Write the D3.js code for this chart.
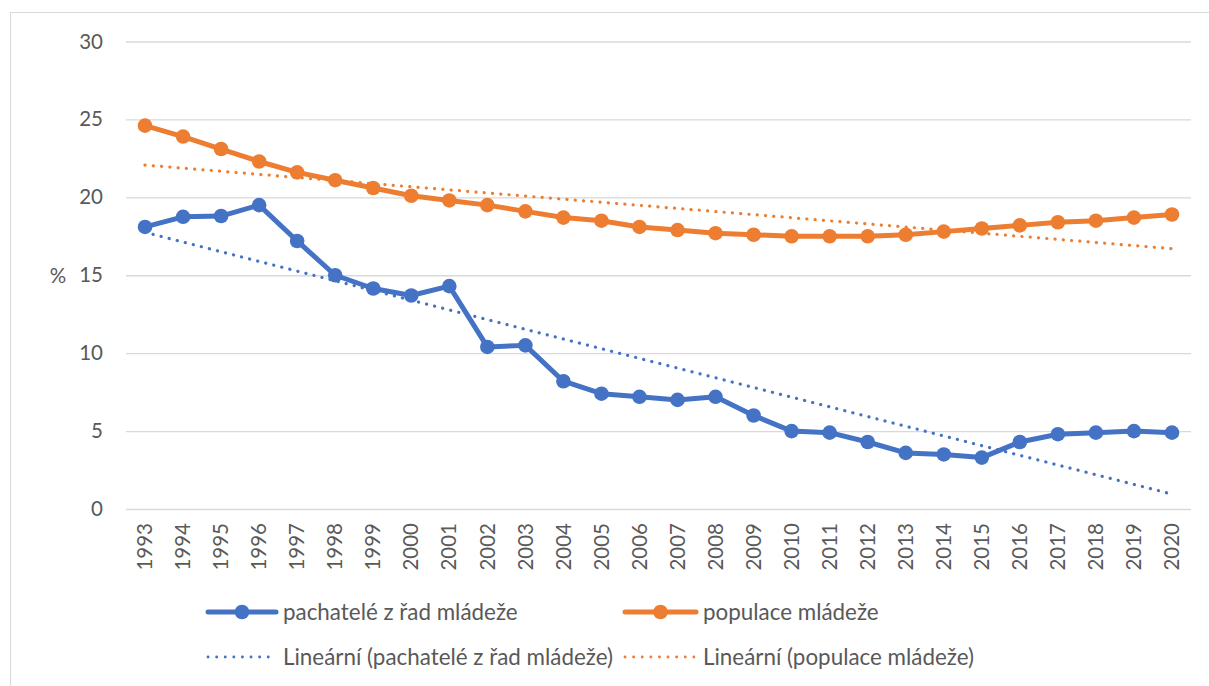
<!DOCTYPE html>
<html><head><meta charset="utf-8">
<script src="https://cdn.jsdelivr.net/npm/d3@7"></script>
<style>
html,body{margin:0;padding:0;background:#fff;}
svg{display:block;}
text{font-family:Lato,"Open Sans",sans-serif;fill:#595959;}
</style></head>
<body><svg id="c" width="1209" height="686"></svg>
<script>
const years = [1993,1994,1995,1996,1997,1998,1999,2000,2001,2002,2003,2004,2005,2006,2007,2008,2009,2010,2011,2012,2013,2014,2015,2016,2017,2018,2019,2020];
const offenders = [18.1,18.75,18.8,19.5,17.2,15.0,14.15,13.7,14.3,10.4,10.5,8.2,7.4,7.2,7.0,7.2,6.0,5.0,4.9,4.3,3.6,3.5,3.3,4.3,4.8,4.9,5.0,4.9];
const population = [24.6,23.9,23.1,22.3,21.6,21.1,20.6,20.1,19.8,19.5,19.1,18.7,18.5,18.1,17.9,17.7,17.6,17.5,17.5,17.5,17.6,17.8,18.0,18.2,18.4,18.5,18.7,18.9];
const yTicks = [0,5,10,15,20,25,30];
const seriesNames = ["pachatelé z řad mládeže","populace mládeže"];
const trendNames = ["Lineární (pachatelé z řad mládeže)","Lineární (populace mládeže)"];
const colors = ["#4472C4","#ED7D31"];

const svg = d3.select("#c");
const L = 126, R = 1191, T = 41.5, B = 509;

// outer frame
svg.append("rect").attr("x",10.5).attr("y",12.5).attr("width",1300).attr("height",800)
  .attr("fill","none").attr("stroke","#D9D9D9").attr("stroke-width",1);

const x = d3.scaleBand().domain(years).range([L,R]);
const y = d3.scaleLinear().domain([0,30]).range([B,T]);
const cx = d => x(d) + x.bandwidth()/2;

// gridlines
const grid = svg.append("g").attr("transform",`translate(${L},0)`)
  .call(d3.axisLeft(y).tickValues(yTicks).tickSize(-(R-L)).tickFormat(""));
grid.select(".domain").remove();
grid.selectAll("line").attr("stroke","#D9D9D9").attr("stroke-width",1.3);

// y labels
const ya = svg.append("g").attr("transform",`translate(${L},0)`)
  .call(d3.axisLeft(y).tickValues(yTicks).tickSize(0).tickPadding(23));
ya.select(".domain").remove();
ya.selectAll("text").attr("font-size",20.5).attr("fill","#595959").attr("font-family","Lato");

// x labels
const xa = svg.append("g").attr("transform",`translate(0,${B})`)
  .call(d3.axisBottom(x).tickSize(0).tickPadding(0));
xa.select(".domain").remove();
xa.selectAll("text").attr("font-size",20.5).attr("fill","#595959").attr("font-family","Lato")
  .attr("transform","rotate(-90)").attr("text-anchor","end")
  .attr("x",-14).attr("y",0).attr("dy","0.35em");

// % label
svg.append("text").attr("x",58).attr("y",276).attr("dy","0.35em").attr("text-anchor","middle")
  .attr("font-size",20.5).text("%");

// linear trend (least squares, like the spreadsheet's "Lineární" trendline)
function linreg(vals){
  const n = vals.length; const xs = d3.range(1,n+1);
  const mx = d3.mean(xs), my = d3.mean(vals);
  let sxy=0,sxx=0; xs.forEach((xi,i)=>{sxy+=(xi-mx)*(vals[i]-my); sxx+=(xi-mx)*(xi-mx);});
  const b = sxy/sxx, a = my - b*mx;
  return xs.map(xi=>a+b*xi);
}

[offenders,population].forEach((vals,k)=>{
  const tr = linreg(vals);
  const endpoints = [[years[0],tr[0]],[years[years.length-1],tr[tr.length-1]]];
  svg.append("path").attr("d",d3.line().x(d=>cx(d[0])).y(d=>y(d[1]))(endpoints))
    .attr("fill","none").attr("stroke",colors[k]).attr("stroke-width",3.2)
    .attr("stroke-linecap","round").attr("stroke-dasharray","0.1 8.2");
});

const line = d3.line().x((d,i)=>cx(years[i])).y(d=>y(d));
[offenders,population].forEach((vals,k)=>{
  svg.append("path").attr("d",line(vals)).attr("fill","none").attr("stroke",colors[k])
    .attr("stroke-width",5).attr("stroke-linejoin","round");
  svg.append("g").selectAll("circle").data(vals).join("circle")
    .attr("cx",(d,i)=>cx(years[i])).attr("cy",d=>y(d)).attr("r",7.3).attr("fill",colors[k]);
});

// legend
const leg = [
  {x0:208,x1:276,tx:283,y:612,c:colors[0],t:seriesNames[0],m:true},
  {x0:625,x1:696,tx:703,y:612,c:colors[1],t:seriesNames[1],m:true},
  {x0:208,x1:276,tx:283,y:657,c:colors[0],t:trendNames[0],m:false},
  {x0:625,x1:696,tx:703,y:657,c:colors[1],t:trendNames[1],m:false}
];
leg.forEach(l=>{
  const g = svg.append("g");
  if(l.m){
    g.append("line").attr("x1",l.x0).attr("x2",l.x1).attr("y1",l.y).attr("y2",l.y)
      .attr("stroke",l.c).attr("stroke-width",5).attr("stroke-linecap","round");
    g.append("circle").attr("cx",(l.x0+l.x1)/2).attr("cy",l.y).attr("r",7.3).attr("fill",l.c);
  } else {
    g.append("line").attr("x1",l.x0).attr("x2",l.x1).attr("y1",l.y).attr("y2",l.y)
      .attr("stroke",l.c).attr("stroke-width",2.8).attr("stroke-linecap","round")
      .attr("stroke-dasharray","0.1 8.5");
  }
  g.append("text").attr("x",l.tx).attr("y",l.y).attr("dy","0.35em")
    .attr("font-size",22.4).text(l.t);
});
</script></body></html>
